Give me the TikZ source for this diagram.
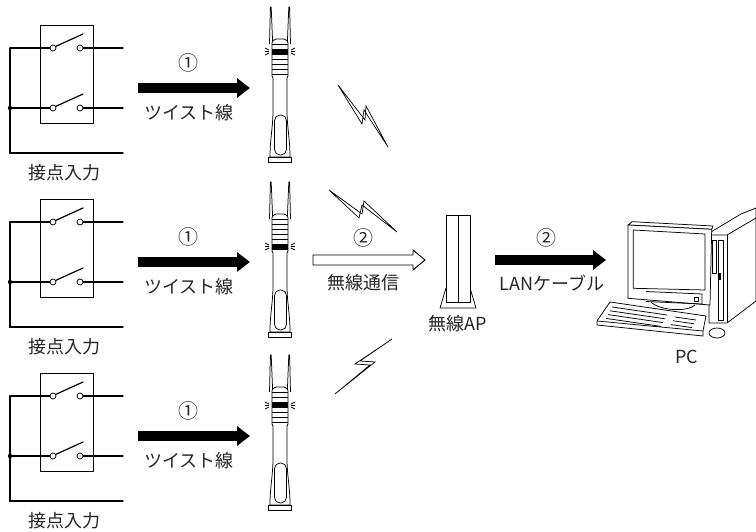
\documentclass[tikz,border=0pt]{standalone}
\usepackage{fontspec}
\setmainfont{Noto Sans CJK JP}
\usetikzlibrary{arrows.meta}

\tikzset{
  wire/.style={line width=1.2pt, line cap=round},
  thinline/.style={line width=0.75pt, line join=round},
  lbl/.style={font=\fontsize{18}{18}\selectfont, text=black!85, inner sep=0pt},
  num/.style={font=\fontsize{20}{20}\selectfont, text=black!85, inner sep=0pt},
  fatarrow/.style={line width=10pt, -{Triangle[length=13pt, width=19pt]}},
  hollowarrow/.style={line width=0.9pt, line join=miter, fill=white},
  bolt/.style={line width=0.7pt, line join=miter, fill=white},
  % contact-input block: two switches with common return wire
  pics/contacts/.style={code={
    \draw[thinline] (40,25) rectangle (93,123);
    \draw[wire] (10,48) -- (10,153) -- (123,153);
    \draw[wire] (10,48) -- (50,48);
    \draw[wire] (83,48) -- (123,48);
    \draw[wire] (10,108) -- (50,108);
    \draw[wire] (83,108) -- (123,108);
    \draw[wire] (55.5,46.5) -- (83,34);
    \draw[wire] (55.5,106.5) -- (83,94);
    \draw[thinline, fill=white] (53,48) circle[radius=3pt];
    \draw[thinline, fill=white] (80,48) circle[radius=3pt];
    \draw[thinline, fill=white] (53,108) circle[radius=3pt];
    \draw[thinline, fill=white] (80,108) circle[radius=3pt];
    \fill (10,108) circle[radius=2.2pt];
    \node[lbl] (-label) at (64,173) {接点入力};
  }},
  % wireless transmitter with two antennas; #1 = top of the lit band
  pics/radio/.style={code={
    \draw[thinline, fill=white] (-10.5,44) -- (-9.6,7) -- (-8.8,7) -- (-7.3,44);
    \draw[thinline, fill=white] (7.3,44) -- (8.8,7) -- (9.6,7) -- (10.5,44);
    \draw[thinline, fill=white] (-8,45) -- (-8,76) -- (-7,78) -- (-7,110)
      .. controls (-7,128) and (-10,138) .. (-10,157) -- (10,157)
      .. controls (10,138) and (7,128) .. (7,110) -- (7,78) -- (8,76) -- (8,45)
      .. controls (8,41) .. (4,39) -- (-4,39) .. controls (-8,41) .. (-8,45) -- cycle;
    \foreach \b in {44,49,54,59,64,69,74} \draw[thinline] (-8,\b) -- (8,\b);
    \fill (-8,#1) rectangle (8,{#1+5});
    \draw[thinline, rounded corners=5.5pt] (-5.5,115) rectangle (6.5,155);
    \draw[thinline, fill=white] (-11.5,157) rectangle (11.5,162);
    \draw[thinline] (-15,{#1-1}) -- (-11,{#1+1});
    \draw[thinline] (-15,{#1+2.5}) -- (-11,{#1+2.5});
    \draw[thinline] (-15,{#1+6}) -- (-11,{#1+4});
    \draw[thinline] (15,{#1-1}) -- (11,{#1+1});
    \draw[thinline] (15,{#1+2.5}) -- (11,{#1+2.5});
    \draw[thinline] (15,{#1+6}) -- (11,{#1+4});
  }}
}

\begin{document}
\begin{tikzpicture}[x=1pt, y=-1pt]
\useasboundingbox (0,0) rectangle (756,532);

% contact inputs
\pic (sw1) at (0,0) {contacts};
\pic (sw2) at (0,174) {contacts};
\pic (sw3) at (0,348) {contacts};

% twisted-pair links
\foreach \k/\dy in {1/0, 2/174, 3/348} {
  \coordinate (tp\k s) at (138,88+\dy);
  \coordinate (tp\k e) at (250,88+\dy);
  \draw[fatarrow] (tp\k s) -- (tp\k e);
  \node[num] (tp\k num) at (188,63+\dy) {①};
  \node[lbl] (tp\k txt) at (189,113+\dy) {ツイスト線};
}

% transmitters
\pic (tx1) at (280,0) {radio=49};
\pic (tx2) at (280,175) {radio=69};
\pic (tx3) at (280,348) {radio=55};

% radio bolts
\draw[bolt] (338,85) -- (365,120) -- (366,106) -- (388,147) -- (364,110) -- (362,124) -- cycle;
\draw[bolt] (329,190) -- (362,214) -- (364,201) -- (397,232) -- (362,205) -- (359,218) -- cycle;
\draw[bolt] (392,339) -- (355,364) -- (370,365) -- (335,394) -- (375,362) -- (360,361) -- cycle;

% wireless link
\coordinate (wl s) at (313,260);
\coordinate (wl e) at (425,260);
\draw[hollowarrow] (wl s) ++(0,-5) -- ++(100,0) -- ++(0,-5) -- (wl e)
  -- ++(-12,10) -- ++(0,-5) -- ++(-100,0) -- cycle;
\node[num] (wlnum) at (363,238) {②};
\node[lbl] (wltxt) at (363,283) {無線通信};

% access point
\draw[thinline] (446,288) -- (440,308) -- (476,308) -- (470,288);
\draw[thinline, fill=white] (446,215) rectangle (470,302);
\draw[thinline] (458.5,215) -- (458.5,302);
\node[lbl] (ap) at (458,324) {無線AP};

% LAN link
\coordinate (lan s) at (495,260);
\coordinate (lan e) at (606,260);
\draw[fatarrow] (lan s) -- (lan e);
\node[num] (lannum) at (546,238) {②};
\node[lbl] (lantxt) at (552,283) {LANケーブル};

% PC: tower
\draw[thinline, fill=white] (711,232) -- (741,214) -- (756,208) -- (756,301) -- (727,323) -- (709,323) -- (709,235) -- cycle;
\draw[thinline] (709,235) -- (727,235) -- (756,218);
\draw[thinline] (727,235) -- (727,323);
\draw[thinline] (712.7,240) rectangle (716,273);
\draw[thinline] (718.3,240) rectangle (723.3,320);
\fill (718.6,273) rectangle (720.6,280);
% PC: monitor
\draw[thinline, fill=white] (628,225) -- (632,221.7) -- (713,226) -- (711.7,229.3) -- cycle;
\draw[thinline, fill=white] (628,225) -- (711.7,229.3) -- (710,305) -- (628,298.3) -- cycle;
\draw[thinline] (633.3,230) -- (705,234) -- (705,290) -- (633.3,288.3) -- cycle;
\draw[thinline] (646,291.5) -- (702,294) -- (702,304) -- (646,301.5);
\draw[thinline] (694.5,297.5) rectangle (698.5,301);
\draw[thinline] (651,302) .. controls (660,311) and (688,312) .. (695,305);
% PC: keyboard
\draw[thinline, fill=white] (610,302) -- (706,316) -- (703,331) -- (703,336) -- (597,325) -- (597,321) -- cycle;
\draw[thinline] (597,321) -- (703,331);
\foreach \r in {0,1,2,3} {
  \draw[thinline] (612-2*\r,307+3.8*\r) -- (667-2*\r,315+3.8*\r);
}
\foreach \r in {0,1,2} {
  \draw[thinline] (675-2*\r,317+3.8*\r) -- (696-2*\r,320+3.8*\r);
}
% PC: mouse
\draw[thinline, fill=white] (717,333) ellipse[x radius=8pt, y radius=5pt];
\node[lbl] (pc) at (687,357) {PC};
\end{tikzpicture}
\end{document}
